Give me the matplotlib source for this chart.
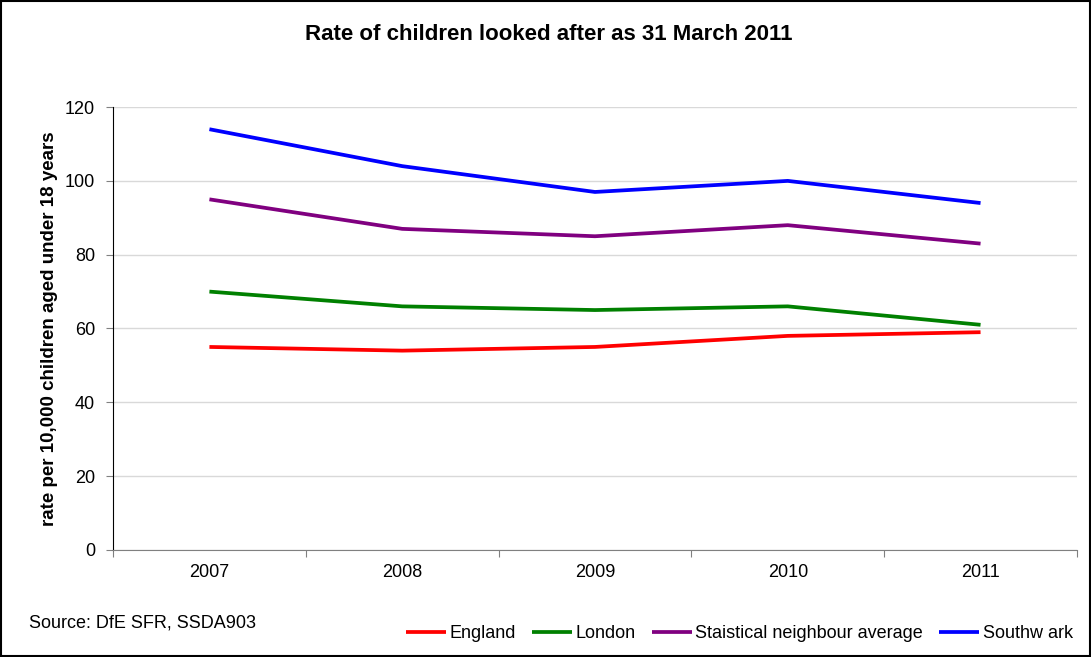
import matplotlib
matplotlib.use("Agg")
import matplotlib.pyplot as plt
import numpy as np

plt.rcParams['font.family'] = ['Liberation Sans', 'DejaVu Sans']

years = ["2007", "2008", "2009", "2010", "2011"]
england = [55, 54, 55, 58, 59]
london = [70, 66, 65, 66, 61]
stat_neighbour = [95, 87, 85, 88, 83]
southwark = [114, 104, 97, 100, 94]

series = [
    ("England", england, "#ff0000"),
    ("London", london, "#008000"),
    ("Staistical neighbour average", stat_neighbour, "#800080"),
    ("Southw ark", southwark, "#0000ff"),
]

fig = plt.figure(figsize=(10.91, 6.57), dpi=100)
ax = fig.add_axes([0.1036, 0.163, 0.8835, 0.674])

x = np.arange(len(years))
for name, vals, col in series:
    ax.plot(x, vals, color=col, lw=2.7, label=name, solid_capstyle="butt")

ax.set_ylim(0, 120)
ax.set_yticks(range(0, 121, 20))
ax.set_xlim(-0.5, len(years) - 0.5)
ax.set_xticks(np.arange(-0.5, len(years)), labels=[""] * (len(years) + 1))
ax.set_xticks(x, labels=years, minor=True)
ax.tick_params(axis="x", which="minor", length=0, labelsize=13, pad=10)
ax.tick_params(axis="x", which="major", length=5, color="#808080")
ax.tick_params(axis="y", length=5, labelsize=13, color="#808080", pad=8)
ax.grid(axis="y", color="#d9d9d9", lw=1)
ax.set_axisbelow(True)
for s in ["top", "right"]:
    ax.spines[s].set_visible(False)
ax.spines["left"].set_color("black")
ax.spines["bottom"].set_color("#808080")

ax.set_ylabel("rate per 10,000 children aged under 18 years", fontsize=13.5,
              fontweight="bold", labelpad=5)
fig.text(0.503, 0.947, "Rate of children looked after as 31 March 2011",
         ha="center", va="center", fontsize=16, fontweight="bold")
fig.text(0.027, 0.052, "Source: DfE SFR, SSDA903", fontsize=13, va="center")

leg = fig.legend(loc="center right", bbox_to_anchor=(0.995, 0.036), ncol=4,
                 frameon=False, fontsize=13, handlelength=2.2, handletextpad=0.2,
                 columnspacing=0.9, borderpad=0.2)

fig.add_artist(plt.Rectangle((0.001, 0.001), 0.998, 0.997, transform=fig.transFigure,
                             fill=False, ec="black", lw=1.5))

fig.savefig("out.png", dpi=100)
